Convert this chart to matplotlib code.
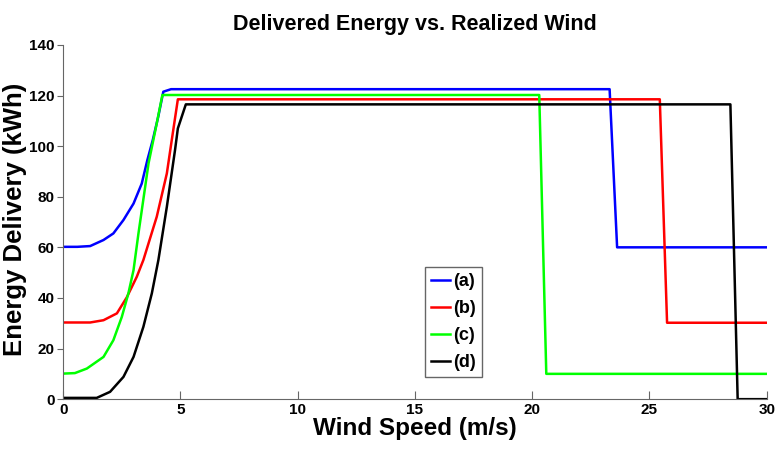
import matplotlib.pyplot as plt

wind_a = [0, 0.6, 1.15, 1.72, 2.14, 2.57, 3.0, 3.35, 3.59, 3.82, 4.05, 4.27, 4.6, 23.3, 23.62, 30]
energy_a = [60.2, 60.2, 60.5, 62.9, 65.5, 70.8, 77.3, 85.2, 94.5, 102.4, 111.5, 121.5, 122.5, 122.5, 60, 60]

wind_b = [0, 0.6, 1.15, 1.72, 2.29, 2.71, 3.14, 3.42, 3.99, 4.42, 4.63, 4.89, 25.44, 25.75, 30]
energy_b = [30.3, 30.3, 30.3, 31.2, 33.9, 40.2, 48.4, 55, 72.1, 89.2, 102.4, 118.5, 118.5, 30.2, 30.2]

wind_c = [0, 0.5, 1.01, 1.72, 2.14, 2.5, 2.78, 3.0, 3.21, 3.64, 3.99, 4.23, 20.3, 20.6, 30]
energy_c = [10.1, 10.3, 12.1, 16.7, 23.3, 32.5, 41.8, 51, 65.5, 93.2, 109, 120.2, 120.2, 10, 10]

wind_d = [0, 0.7, 1.43, 2.0, 2.57, 3.0, 3.42, 3.78, 4.06, 4.42, 4.77, 4.89, 5.23, 28.45, 28.76, 30]
energy_d = [0.5, 0.5, 0.5, 2.9, 8.8, 16.7, 28.6, 41.8, 55, 76, 98.5, 107, 116.5, 116.5, 0, 0]

labels = ["(a)", "(b)", "(c)", "(d)"]
colors = ["#0000ff", "#ff0000", "#00ff00", "#000000"]

plt.rcParams["font.family"] = ["Liberation Sans", "DejaVu Sans"]

fig = plt.figure(figsize=(7.8, 4.49), dpi=100)
ax = fig.add_axes([0.081, 0.111, 0.902, 0.789])

for xs, ys, lab, col in zip([wind_a, wind_b, wind_c, wind_d],
                            [energy_a, energy_b, energy_c, energy_d],
                            labels, colors):
    ax.plot(xs, ys, color=col, lw=1.8, label=lab)

ax.set_xlim(0, 30)
ax.set_ylim(0, 140)
ax.set_xticks(range(0, 31, 5))
ax.set_yticks(range(0, 141, 20))
ax.spines["top"].set_visible(False)
ax.spines["right"].set_visible(False)
for sp in ["left", "bottom"]:
    ax.spines[sp].set_color("#666666")
ax.tick_params(axis="x", direction="in", length=6, color="#666666", pad=3)
ax.tick_params(axis="y", direction="out", length=4, color="#666666", pad=2)
for t in ax.get_xticklabels() + ax.get_yticklabels():
    t.set_fontweight("bold")
    t.set_fontsize(11)

ax.set_title("Delivered Energy vs. Realized Wind", fontsize=15.5, fontweight="bold", pad=11)
ax.set_xlabel("Wind Speed (m/s)", fontsize=17.5, fontweight="bold", labelpad=0)
ax.set_ylabel("Energy Delivery (kWh)", fontsize=18.5, fontweight="bold")
ax.yaxis.set_label_coords(-0.052, 0.507)

leg = ax.legend(loc="center", bbox_to_anchor=(0.555, 0.218),
                prop={"weight": "bold", "size": 13},
                handlelength=1.0, handletextpad=0.2, fancybox=False,
                framealpha=1, borderpad=0.35, labelspacing=0.55)
leg.get_frame().set_edgecolor("#666666")

fig.savefig("out.png", dpi=100)
